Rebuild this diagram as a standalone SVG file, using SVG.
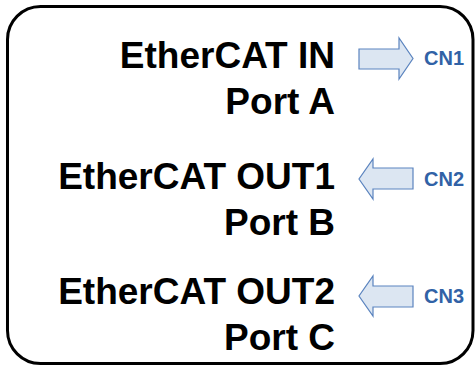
<svg xmlns="http://www.w3.org/2000/svg" width="475" height="367" viewBox="0 0 475 367">
<style>
.main{font-family:"Liberation Sans",Arial,sans-serif;font-weight:bold;font-size:37px;fill:#000;text-anchor:end}
.cn{font-family:"Liberation Sans",Arial,sans-serif;font-weight:bold;font-size:20px;fill:#3162a6}
.arrow{fill:#dce6f2;stroke:#5b84bf;stroke-width:1.2;stroke-linejoin:miter}
</style>
<rect x="7.5" y="6.5" width="465.5" height="357" rx="33" ry="33" fill="#fff" stroke="#000" stroke-width="3"/>
<g id="portA">
<text class="main" x="335" y="68">EtherCAT IN</text>
<text class="main" x="335" y="114">Port A</text>
</g>
<g id="portB">
<text class="main" x="335" y="189">EtherCAT OUT1</text>
<text class="main" x="335" y="235">Port B</text>
</g>
<g id="portC">
<text class="main" x="335" y="304">EtherCAT OUT2</text>
<text class="main" x="335" y="350">Port C</text>
</g>
<g id="connectors">
<polygon id="arrow-cn1" class="arrow" points="359,49 399,49 399,38 413,58.5 399,79 399,69 359,69"/>
<polygon id="arrow-cn2" class="arrow" points="413,168 373,168 373,159 359,179 373,199 373,189 413,189"/>
<polygon id="arrow-cn3" class="arrow" points="413,286 373,286 373,276 359,296 373,316 373,307 413,307"/>
</g>
<g id="cn1"><text class="cn" x="424" y="65">CN1</text></g>
<g id="cn2"><text class="cn" x="424" y="186">CN2</text></g>
<g id="cn3"><text class="cn" x="424" y="303">CN3</text></g>
</svg>
